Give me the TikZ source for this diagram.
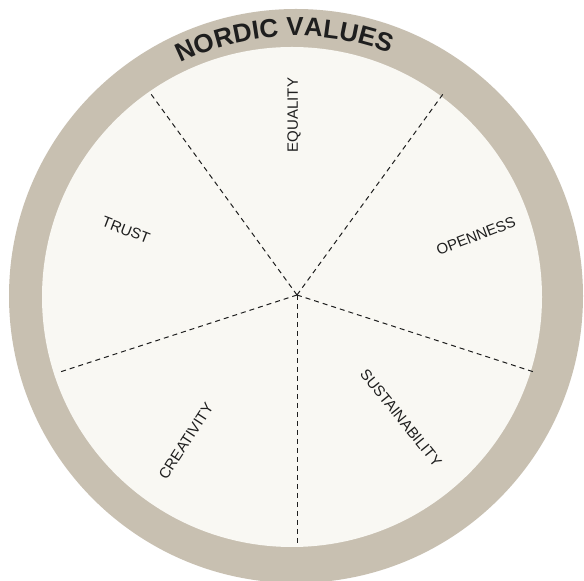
\documentclass[tikz,border=0pt]{standalone}
\usepackage{fontspec}
\setmainfont{Liberation Sans}
\usetikzlibrary{decorations.text}
\definecolor{ringc}{RGB}{200,192,177}
\definecolor{innerc}{RGB}{249,248,243}
\definecolor{inkc}{RGB}{30,30,30}
\newcommand{\nvtitle}{\fontsize{26}{26}\selectfont\bfseries}
\begin{document}
\begin{tikzpicture}[x=1pt,y=1pt,
  spoke/.style={dash pattern=on 5pt off 4pt, line width=1pt, draw=inkc},
  lbl/.style={font=\fontsize{15}{15}\selectfont, text=inkc, inner sep=0pt}]
\useasboundingbox (0,0) rectangle (584,581);
\fill[white] (0,0) rectangle (584,581);
\fill[ringc] (296,285) circle[radius=287];
\fill[innerc] (292,284) circle[radius=250];
\coordinate (c) at (297,286);
\foreach \a/\n in {-90/pb,-18/pr,54/pur,126/pul,198/pl}
  \coordinate (\n) at ([shift={(\a:250)}]c);
\foreach \n in {pb,pr,pur,pul,pl}
  \draw[spoke] (c) -- (\n);
\node[lbl, rotate=90]  (equality) at (294,466) {EQUALITY};
\node[lbl, rotate=-21] (trust) at (126,351) {TRUST};
\node[lbl, rotate=21]  (openness) at (476,345) {OPENNESS};
\node[lbl, rotate=57]  (creativity) at (186,140) {CREATIVITY};
\node[lbl, rotate=-51] (sustain) at (401,163) {SUSTAINABILITY};
\path[decorate, decoration={text along path, text={|\nvtitle\color{inkc}|NORDIC VALUES}, text align=center}]
  ([shift={(152.6:260)}]296,285) arc[start angle=152.6, end angle=32.6, radius=260];
\end{tikzpicture}
\end{document}
